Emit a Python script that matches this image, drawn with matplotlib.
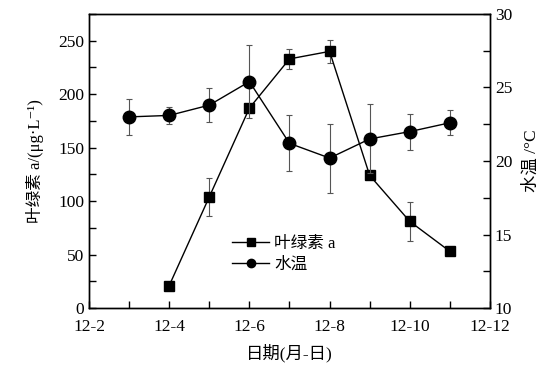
import numpy as np
import matplotlib
matplotlib.use('Agg')
import matplotlib.pyplot as plt
from matplotlib.lines import Line2D
from matplotlib.ticker import MultipleLocator, FixedLocator

plt.rcParams['font.family'] = ['Liberation Serif', 'Noto Sans CJK SC', 'DejaVu Sans']

# data
chl_day = [4, 5, 6, 7, 8, 9, 10, 11]
chl = [21, 104, 187, 233, 240, 124, 81, 53]
chl_err = [0, 18, 4, 9, 11, 0, 18.5, 0]

temp_day = [3, 4, 5, 6, 7, 8, 9, 10, 11]
temp = [23.0, 23.1, 23.8, 25.4, 21.2, 20.2, 21.5, 22.0, 22.6]
temp_err = [1.2, 0.55, 1.15, 2.5, 1.9, 2.35, 2.35, 1.23, 0.85]

xtick_days = [2, 4, 6, 8, 10, 12]
xtick_labels = ['12-2', '12-4', '12-6', '12-8', '12-10', '12-12']

fig = plt.figure(figsize=(5.53, 3.68), dpi=100)
ax = fig.add_axes([0.161, 0.163, 0.725, 0.799])
ax2 = ax.twinx()

ax.errorbar(chl_day, chl, yerr=chl_err, color='black', marker='s', markersize=7.5,
            linewidth=1, ecolor='#555555', elinewidth=0.8, capsize=2.5, capthick=0.8)
ax2.errorbar(temp_day, temp, yerr=temp_err, color='black', marker='o', markersize=9,
             linewidth=1, ecolor='#555555', elinewidth=0.8, capsize=2.5, capthick=0.8)

ax.set_xlim(2, 12)
ax.set_ylim(0, 275)
ax2.set_ylim(10, 30)
ax.set_xticks(xtick_days)
ax.set_xticklabels(xtick_labels)
ax.xaxis.set_minor_locator(MultipleLocator(1))
ax.yaxis.set_major_locator(FixedLocator([0, 50, 100, 150, 200, 250]))
ax.yaxis.set_minor_locator(MultipleLocator(25))
ax2.yaxis.set_major_locator(MultipleLocator(5))
ax2.yaxis.set_minor_locator(MultipleLocator(2.5))

for a in (ax, ax2):
    a.tick_params(which='both', direction='in', labelsize=12.5, width=1, length=5)
    for s in a.spines.values():
        s.set_linewidth(1)
ax.tick_params(axis='x', which='both', pad=8)

ax.set_xlabel('日期(月-日)', fontsize=12.5, labelpad=6)
ax.set_ylabel('叶绿素 a/(μg·L⁻¹)', fontsize=12, labelpad=10)
ax2.set_ylabel('水温 /°C', fontsize=12.5, rotation=90, labelpad=8)

h1 = Line2D([], [], color='black', marker='s', markersize=5.5, linewidth=1)
h2 = Line2D([], [], color='black', marker='o', markersize=6, linewidth=1)
ax.legend([h1, h2], ['叶绿素 a', '水温'], loc='lower left', bbox_to_anchor=(0.32, 0.07),
          frameon=False, prop={'size': 12}, handlelength=2.2, labelspacing=0.25,
          handletextpad=0.3)

plt.savefig('out.png', dpi=100)
